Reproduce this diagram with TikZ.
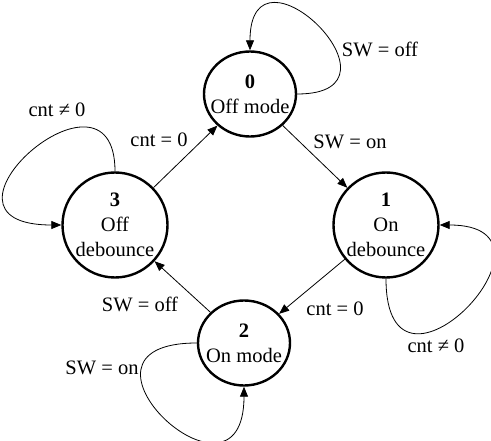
\documentclass[tikz,border=0pt]{standalone}
\usepackage{fontspec}
\setmainfont{Liberation Serif}
\usetikzlibrary{arrows.meta, shapes.geometric}

\begin{document}
\begin{tikzpicture}[x = 1pt, y = -1pt,
    font = \fontsize{20.5}{25}\selectfont,
    state/.style = {draw, line width = 2.4pt, circle, minimum size = 105pt,
      inner sep = 0pt, align = center},
    mode/.style = {draw, line width = 2.4pt, ellipse, minimum width = 92pt,
      minimum height = 85pt, inner sep = 0pt, inner xsep = -8pt, align = center},
    trans/.style = {line width = 0.8pt, -{Triangle[length = 10pt, width = 8pt]}}]

      \useasboundingbox (0, 0) rectangle (491, 441);

      \node[mode] (off) at (250, 94) {\textbf{0}\\Off mode};
      \node[state] (ondeb) at (386, 225) {\textbf{1}\\On\\debounce};
      \node[mode] (on) at (244, 343) {\textbf{2}\\On mode};
      \node[state] (offdeb) at (115, 225) {\textbf{3}\\Off\\debounce};

      \draw[trans] (off) -- (ondeb);
      \draw[trans] (ondeb) -- (on);
      \draw[trans] (on) -- (offdeb);
      \draw[trans] (offdeb) -- (off);

      \draw[trans] (off.east) .. controls +(120, 0) and +(0, -120) .. (off.north);
      \draw[trans] (ondeb.south) .. controls +(0, 150) and +(140, 0) .. (ondeb.east);
      \draw[trans] (on.west) .. controls +(-150, 0) and +(0, 140) .. (on.south);
      \draw[trans] (offdeb.north) .. controls +(0, -125) and +(-150, 0) .. (offdeb.west);

      \node (swoff0) at (380, 49) {SW = off};
      \node (swon01) at (350, 142) {SW = on};
      \node (cnt12) at (335, 309) {cnt = 0};
      \node (cntloop1) at (436, 346) {cnt ≠ 0};
      \node (swon2) at (102, 368) {SW = on};
      \node (swoff23) at (140, 304) {SW = off};
      \node (cnt30) at (159, 140) {cnt = 0};
      \node (cntloop3) at (57, 110) {cnt ≠ 0};

\end{tikzpicture}
\end{document}
